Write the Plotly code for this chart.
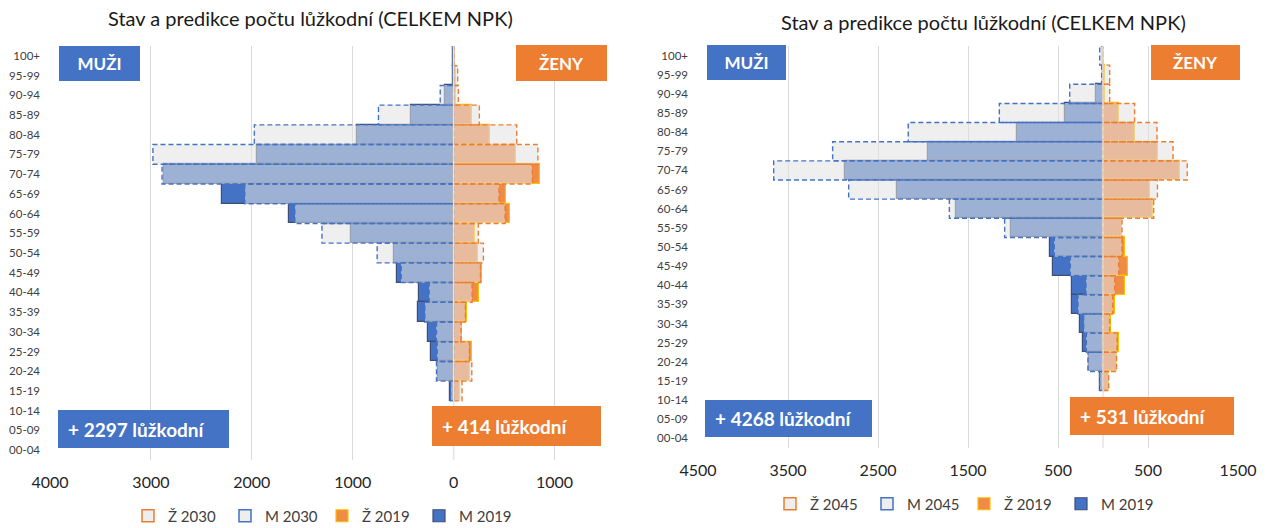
import plotly.graph_objects as go

# Age groups, listed from the top row of the pyramid down
ages = ["100+", "95-99", "90-94", "85-89", "80-84", "75-79", "70-74", "65-69",
        "60-64", "55-59", "50-54", "45-49", "40-44", "35-39", "30-34", "25-29",
        "20-24", "15-19", "10-14", "05-09", "00-04"]

# Bed-days (lůžkodní) per age group
m_2019 = [2, 5, 82, 420, 954, 1950, 2870, 2293, 1632, 1017, 588, 559, 342, 349, 258, 222, 158, 33, 0, 0, 0]
z_2019 = [2, 19, 23, 180, 356, 615, 852, 522, 561, 207, 240, 278, 247, 137, 87, 178, 160, 65, 0, 0, 0]
m_2030 = [10, 10, 133, 745, 1975, 2980, 2890, 2070, 1574, 1305, 758, 519, 243, 286, 170, 163, 170, 30, 0, 0, 0]
z_2030 = [5, 40, 47, 255, 625, 835, 780, 449, 510, 245, 295, 266, 183, 116, 73, 156, 180, 83, 0, 0, 0]
m_2045 = [37, 15, 370, 1152, 2164, 3004, 3659, 2826, 1707, 1093, 541, 363, 189, 278, 215, 185, 167, 37, 0, 0, 0]
z_2045 = [3, 74, 74, 351, 600, 778, 936, 605, 563, 211, 211, 174, 130, 107, 74, 156, 150, 63, 0, 0, 0]

title_text = "Stav a predikce počtu lůžkodní (CELKEM NPK)"
left_total_m = "+ 2297 lůžkodní"
left_total_z = "+ 414 lůžkodní"
right_total_m = "+ 4268 lůžkodní"
right_total_z = "+ 531 lůžkodní"

tick_vals_left = [-4000, -3000, -2000, -1000, 0, 1000]
tick_text_left = ["4000", "3000", "2000", "1000", "0", "1000"]
tick_vals_right = [-4500, -3500, -2500, -1500, -500, 500, 1500]
tick_text_right = ["4500", "3500", "2500", "1500", "500", "500", "1500"]

FONT = "Lato"
BLUE = "#4472C4"
ORANGE = "#ED7D31"
Z_FILL = "#EF8A47"
Z_LINE = "#FFC000"
M_LINE = "#3F4E72"
PROJ_FILL = "rgba(226,226,226,0.56)"
GRID = "#D9D9D9"
TEXT = "#404040"

W, H = 1268, 528
n = len(ages)
ypos = [n - 1 - i for i in range(n)]


def signed(values, sign):
    """Bar lengths with empty age groups left out (no zero-width bars)."""
    return [sign * v if v > 0 else None for v in values]


def outline(values, sign):
    """Closed rectangle path around each projection bar (for the dashed border)."""
    xs, ys = [], []
    for v, y in zip(values, ypos):
        if v <= 0:
            continue
        x = sign * v
        xs += [0, x, x, 0, 0, None]
        ys += [y - 0.5, y - 0.5, y + 0.5, y + 0.5, y - 0.5, None]
    return xs, ys


def px_x(p):
    return p / W


def px_y(p):
    return 1 - p / H


fig = go.Figure()


def add_pyramid(xref, yref, legend, m_proj, z_proj, year):
    # 2019 bars
    fig.add_trace(go.Bar(
        x=signed(m_2019, -1), y=ypos, orientation="h", width=1,
        marker=dict(color=BLUE, line=dict(color=M_LINE, width=1.2)),
        name="M 2019", legend=legend, legendrank=4, xaxis=xref, yaxis=yref,
        hoverinfo="skip"))
    fig.add_trace(go.Bar(
        x=signed(z_2019, 1), y=ypos, orientation="h", width=1,
        marker=dict(color=Z_FILL, line=dict(color=Z_LINE, width=1.2)),
        name="Ž 2019", legend=legend, legendrank=3, xaxis=xref, yaxis=yref,
        hoverinfo="skip"))
    # projection bars, translucent on top of 2019
    fig.add_trace(go.Bar(
        x=signed(m_proj, -1), y=ypos, orientation="h", width=1,
        marker=dict(color=PROJ_FILL, line=dict(width=0)),
        showlegend=False, xaxis=xref, yaxis=yref, hoverinfo="skip"))
    fig.add_trace(go.Bar(
        x=signed(z_proj, 1), y=ypos, orientation="h", width=1,
        marker=dict(color=PROJ_FILL, line=dict(width=0)),
        showlegend=False, xaxis=xref, yaxis=yref, hoverinfo="skip"))
    # dashed borders of the projection bars
    mx, my = outline(m_proj, -1)
    fig.add_trace(go.Scatter(
        x=mx, y=my, mode="lines", line=dict(color=BLUE, width=1.4, dash="5px,3px"),
        showlegend=False, xaxis=xref, yaxis=yref, hoverinfo="skip"))
    zx, zy = outline(z_proj, 1)
    fig.add_trace(go.Scatter(
        x=zx, y=zy, mode="lines", line=dict(color=ORANGE, width=1.4, dash="5px,3px"),
        showlegend=False, xaxis=xref, yaxis=yref, hoverinfo="skip"))
    # legend keys for the projection series
    fig.add_trace(go.Bar(
        x=[None], y=[None], orientation="h",
        marker=dict(color="rgba(238,238,238,1)", line=dict(color=ORANGE, width=1.5)),
        name="Ž " + year, legend=legend, legendrank=1, xaxis=xref, yaxis=yref))
    fig.add_trace(go.Bar(
        x=[None], y=[None], orientation="h",
        marker=dict(color="rgba(238,238,238,1)", line=dict(color=BLUE, width=1.5)),
        name="M " + year, legend=legend, legendrank=2, xaxis=xref, yaxis=yref))
    # category axis line at zero
    fig.add_shape(type="line", xref=xref, x0=0, x1=0,
                  yref=yref + " domain", y0=0, y1=1,
                  line=dict(color="#E4E4E4", width=1.5), layer="above")


add_pyramid("x", "y", "legend", m_2030, z_2030, "2030")
add_pyramid("x2", "y2", "legend2", m_2045, z_2045, "2045")

x_common = dict(showgrid=True, gridcolor=GRID, gridwidth=1, zeroline=False,
                showline=False, ticks="", fixedrange=True, automargin=False,
                tickfont=dict(size=16, color="#262626"), ticklabelstandoff=11)
y_common = dict(range=[-0.5, n - 0.5], tickvals=ypos, ticktext=ages,
                showgrid=False, zeroline=False, showline=False, ticks="",
                tickfont=dict(size=11.5, color=TEXT), ticklabelstandoff=9,
                fixedrange=True, automargin=False)
legend_common = dict(orientation="h", xanchor="center", yanchor="middle",
                     itemwidth=30, entrywidthmode="pixels", entrywidth=52,
                     font=dict(size=15, color=TEXT), bgcolor="rgba(0,0,0,0)")

fig.update_layout(
    width=W, height=H,
    margin=dict(l=0, r=0, t=0, b=0, autoexpand=False),
    paper_bgcolor="white", plot_bgcolor="white",
    barmode="overlay", bargap=0,
    font=dict(family=FONT, color=TEXT),
    xaxis=dict(domain=[px_x(50), px_x(605)], range=[-4000, 1500],
               tickvals=tick_vals_left, ticktext=tick_text_left,
               anchor="y", **x_common),
    yaxis=dict(domain=[px_y(460), px_y(46)], anchor="x", **y_common),
    xaxis2=dict(domain=[px_x(698), px_x(1238)], range=[-4500, 1500],
                tickvals=tick_vals_right, ticktext=tick_text_right,
                anchor="y2", **x_common),
    yaxis2=dict(domain=[px_y(448), px_y(46)], anchor="x2", **y_common),
    legend=dict(x=px_x(322), y=px_y(516), **legend_common),
    legend2=dict(x=px_x(964), y=px_y(504), **legend_common),
)


def box(text, x0, x1, y0, y1, color, size, pad=0, align="center"):
    fig.add_annotation(
        xref="paper", yref="paper", x=px_x(x0), y=px_y(y0),
        xanchor="left", yanchor="top", showarrow=False,
        text="<b>" + text + "</b>", align=align, valign="middle",
        width=(x1 - x0) - 2 * pad, height=(y1 - y0) - 2 * pad, borderpad=pad,
        bgcolor=color, borderwidth=0,
        font=dict(family=FONT, size=size, color="white"))


# gender labels
box("MUŽI", 59, 140, 46, 81, BLUE, 17)
box("ŽENY", 516, 607, 45, 81, ORANGE, 17)
box("MUŽI", 707, 786, 45, 80, BLUE, 17)
box("ŽENY", 1151, 1240, 45, 80, ORANGE, 17)
# total increase of bed-days
box(left_total_m, 58, 229, 410, 448, BLUE, 19, pad=10, align="left")
box(left_total_z, 432, 601, 406, 446, ORANGE, 19, pad=10, align="left")
box(right_total_m, 705, 872, 400, 437, BLUE, 19, pad=10, align="left")
box(right_total_z, 1070, 1234, 397, 435, ORANGE, 19, pad=10, align="left")

# chart titles
for cx, cy in [(310, 18), (984, 22)]:
    fig.add_annotation(xref="paper", yref="paper", x=px_x(cx), y=px_y(cy),
                       xanchor="center", yanchor="middle", showarrow=False,
                       text=title_text, font=dict(family=FONT, size=20, color="#1a1a1a"))

fig.write_html("out.html")
